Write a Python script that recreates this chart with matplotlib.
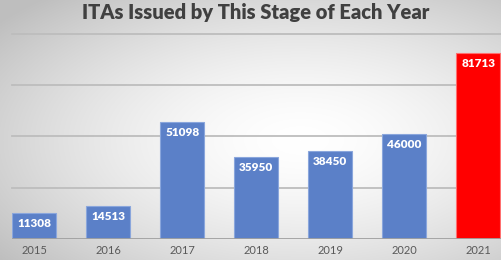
import numpy as np
import matplotlib.pyplot as plt

# datos del grafico
years = ['2015', '2016', '2017', '2018', '2019', '2020', '2021']
itas = [11308, 14513, 51098, 35950, 38450, 46000, 81713]
colors = ['#5b80c8'] * 6 + ['#ff0000']
edges = ['#8aa6dc'] * 6 + ['#ff7070']

W, H = 502, 260
fig = plt.figure(figsize=(W / 100, H / 100), dpi=100)

# fondo con degradado (gris en bordes, blanco al centro)
bg = fig.add_axes([0, 0, 1, 1])
yy, xx = np.mgrid[0:H, 0:W]
r = np.sqrt(((xx - 300) / 320.0) ** 2 + ((yy - 140) / 160.0) ** 2)
val = 1.0 - 0.19 * np.clip(r, 0, 1.2) ** 1.6
img = np.dstack([val, val, val])
bg.imshow(img, aspect='auto', extent=[0, W, H, 0])
bg.axis('off')

# titulo
fig.text(256 / W, 1 - 13 / H, 'ITAs Issued by This Stage of Each Year',
         ha='center', va='center', fontsize=14.5, fontweight='heavy',
         color='#404040', family='Lato')

# area del grafico
ax = fig.add_axes([12 / W, 21 / H, 490 / W, (239 - 33.7) / H])
ax.patch.set_alpha(0)
x = np.arange(len(years))
bars = ax.bar(x, itas, width=0.595, color=colors, edgecolor=edges, linewidth=0.8, zorder=3)
ax.set_xlim(-0.3, 6.32)
ax.set_ylim(0, 90000)
for v in [22500, 45000, 67500, 90000]:
    ax.axhline(v, color='#bdbdbd', linewidth=1.3, zorder=1, clip_on=False)
ax.axhline(0, color='#a0a0a0', linewidth=1.3, zorder=4)

for b, v in zip(bars, itas):
    ax.annotate(str(v), (b.get_x() + b.get_width() / 2, v), xytext=(0, -7.5),
                textcoords='offset points', ha='center', va='center',
                fontsize=8.5, fontweight='heavy', color='white', family='Lato', zorder=5)

ax.set_xticks(x)
ax.set_xticklabels(years, fontsize=8, color='#595959', family='Lato')
ax.tick_params(axis='x', length=0, pad=4)
ax.set_yticks([])
for s in ax.spines.values():
    s.set_visible(False)

fig.savefig('out.png', dpi=100)
